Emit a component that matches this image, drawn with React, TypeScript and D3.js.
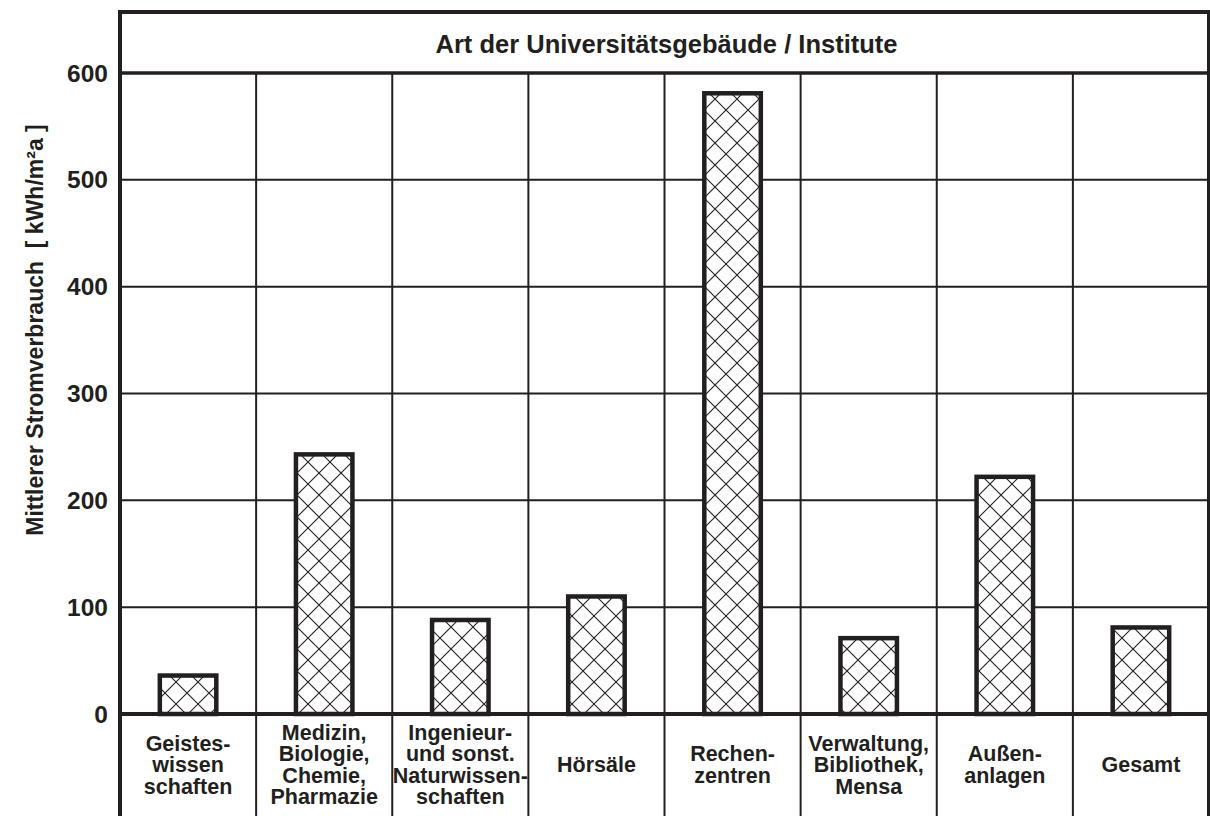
import React, { useEffect, useRef } from "react";
import * as d3 from "d3";

// categories (one row per line of the label)
const categories = [
  ["Geistes-", "wissen", "schaften"],
  ["Medizin,", "Biologie,", "Chemie,", "Pharmazie"],
  ["Ingenieur-", "und sonst.", "Naturwissen-", "schaften"],
  ["Hörsäle"],
  ["Rechen-", "zentren"],
  ["Verwaltung,", "Bibliothek,", "Mensa"],
  ["Außen-", "anlagen"],
  ["Gesamt"],
];
// mean electricity consumption, kWh/m²a
const values = [36, 243, 88, 110, 581, 71, 222, 81];
const yTicks = [0, 100, 200, 300, 400, 500, 600];

const title = "Art der Universitätsgebäude / Institute";
const yLabel = "Mittlerer Stromverbrauch  [ kWh/m²a ]";

const ink = "#231f20";
const font = "Arial, 'Liberation Sans', Helvetica, sans-serif";

const App = () => {
  const ref = useRef<SVGSVGElement>(null);

  useEffect(() => {
    const svg = d3.select(ref.current);
    svg.selectAll("*").remove();

    const left = 120, right = 1209, top = 12, headerY = 73, zeroY = 714, bottom = 816;

    const x = d3.scaleBand<number>().domain(d3.range(values.length)).range([left, right]).padding(0);
    const y = d3.scaleLinear().domain([0, 600]).range([zeroY, headerY]);
    const barW = x.bandwidth() * 0.415;

    // crosshatch pattern
    const defs = svg.append("defs");
    const pat = defs.append("pattern")
      .attr("id", "hatch")
      .attr("patternUnits", "userSpaceOnUse")
      .attr("width", 22)
      .attr("height", 22);
    pat.append("rect").attr("width", 22).attr("height", 22).attr("fill", "#fff");
    pat.append("path")
      .attr("d", "M0,0L22,22M0,22L22,0")
      .attr("stroke", ink)
      .attr("stroke-width", 1.1)
      .attr("fill", "none");

    svg.append("rect").attr("width", 1210).attr("height", 816).attr("fill", "#fff");

    // horizontal grid
    svg.append("g")
      .selectAll("line")
      .data(yTicks.filter((t) => t > 0 && t < 600))
      .join("line")
      .attr("x1", left).attr("x2", right)
      .attr("y1", (d) => y(d)).attr("y2", (d) => y(d))
      .attr("stroke", ink).attr("stroke-width", 2);

    // vertical column separators
    svg.append("g")
      .selectAll("line")
      .data(d3.range(1, values.length))
      .join("line")
      .attr("x1", (d) => x(d)!).attr("x2", (d) => x(d)!)
      .attr("y1", headerY).attr("y2", bottom)
      .attr("stroke", ink).attr("stroke-width", 2);

    // bars
    svg.append("g")
      .selectAll("rect")
      .data(values)
      .join("rect")
      .attr("x", (_, i) => x(i)! + (x.bandwidth() - barW) / 2)
      .attr("y", (d) => y(d))
      .attr("width", barW)
      .attr("height", (d) => zeroY - y(d))
      .attr("fill", "url(#hatch)")
      .attr("stroke", ink)
      .attr("stroke-width", 4.5);

    // zero line and header line
    svg.append("line").attr("x1", left).attr("x2", right).attr("y1", zeroY).attr("y2", zeroY)
      .attr("stroke", ink).attr("stroke-width", 4);
    svg.append("line").attr("x1", left).attr("x2", right).attr("y1", y(600)).attr("y2", y(600))
      .attr("stroke", ink).attr("stroke-width", 3.5);

    // outer frame
    svg.append("path")
      .attr("d", `M${left},${bottom + 5}V${top}H${right}V${bottom + 5}`)
      .attr("fill", "none").attr("stroke", ink).attr("stroke-width", 4);

    // title
    svg.append("text")
      .attr("x", (left + right) / 2 + 2).attr("y", (top + headerY) / 2 + 1)
      .attr("text-anchor", "middle").attr("dominant-baseline", "central")
      .attr("font-family", font).attr("font-weight", "bold").attr("font-size", 25.5)
      .attr("fill", ink).text(title);

    // y tick labels
    svg.append("g")
      .selectAll("text")
      .data(yTicks)
      .join("text")
      .attr("x", 108).attr("y", (d) => y(d))
      .attr("text-anchor", "end").attr("dominant-baseline", "central")
      .attr("font-family", font).attr("font-weight", "bold").attr("font-size", 24.5)
      .attr("fill", ink).text((d) => d);

    // y axis title
    svg.append("text")
      .attr("transform", `translate(35,330) rotate(-90)`)
      .attr("text-anchor", "middle").attr("dominant-baseline", "central")
      .attr("font-family", font).attr("font-weight", "bold").attr("font-size", 23)
      .attr("fill", ink).attr("xml:space", "preserve").style("white-space", "pre")
      .text(yLabel);

    // category labels
    const lh = 21.5;
    const labelMid = 765;
    const g = svg.append("g");
    categories.forEach((lines, i) => {
      const t = g.append("text")
        .attr("text-anchor", "middle")
        .attr("font-family", font).attr("font-weight", "bold").attr("font-size", 21.5)
        .attr("fill", ink);
      lines.forEach((s, j) => {
        t.append("tspan")
          .attr("x", x(i)! + x.bandwidth() / 2)
          .attr("y", labelMid + (j - (lines.length - 1) / 2) * lh)
          .attr("dominant-baseline", "central")
          .text(s);
      });
    });
  }, []);

  return (
    <svg ref={ref} width={1210} height={816} style={{ position: "absolute", left: 0, top: 0, display: "block" }} />
  );
};

export default App;
